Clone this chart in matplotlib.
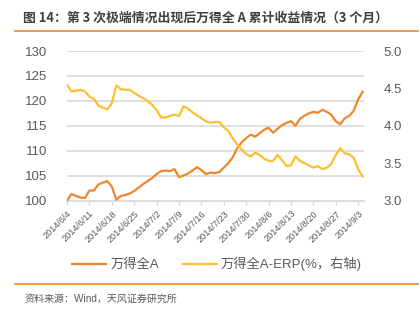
import matplotlib
matplotlib.use("Agg")
import matplotlib.pyplot as plt
from matplotlib.lines import Line2D

plt.rcParams['font.family'] = ['Liberation Sans', 'Noto Sans CJK SC', 'DejaVu Sans']

# 交易日标签（每5个交易日标注一次）
tick_labels = ["2014/6/4", "2014/6/11", "2014/6/18", "2014/6/25", "2014/7/2",
               "2014/7/9", "2014/7/16", "2014/7/23", "2014/7/30", "2014/8/6",
               "2014/8/13", "2014/8/20", "2014/8/27", "2014/9/3"]

# 万得全A累计收益（起点=100）
wind_a = [100.0, 101.3, 100.9, 100.6, 100.5, 102.0, 102.0, 103.2, 103.6, 103.9,
          102.8, 100.2, 100.9, 101.1, 101.4, 101.9, 102.6, 103.3, 103.9, 104.5,
          105.3, 105.9, 106.0, 105.9, 106.3, 104.7, 105.0, 105.4, 106.0, 106.7,
          106.1, 105.3, 105.6, 105.5, 105.7, 106.6, 107.5, 108.7, 110.5, 111.7,
          112.5, 113.2, 112.8, 113.5, 114.2, 114.6, 113.6, 114.4, 115.1, 115.6,
          115.9, 115.0, 116.4, 117.0, 117.5, 117.8, 117.6, 118.2, 117.8, 117.2,
          115.9, 115.3, 116.5, 117.0, 118.0, 120.3, 121.8]

# 万得全A ERP（%）
erp = [4.55, 4.46, 4.47, 4.48, 4.46, 4.39, 4.36, 4.27, 4.24, 4.22,
       4.30, 4.54, 4.49, 4.48, 4.48, 4.44, 4.40, 4.37, 4.33, 4.28,
       4.21, 4.11, 4.11, 4.13, 4.15, 4.13, 4.26, 4.23, 4.18, 4.14,
       4.10, 4.06, 4.04, 4.05, 4.05, 3.98, 3.93, 3.83, 3.75, 3.68,
       3.62, 3.59, 3.64, 3.61, 3.56, 3.53, 3.53, 3.61, 3.54, 3.46,
       3.47, 3.59, 3.53, 3.50, 3.47, 3.44, 3.46, 3.42, 3.44, 3.49,
       3.61, 3.70, 3.63, 3.62, 3.57, 3.42, 3.32]

ORANGE = "#F0862A"
YELLOW = "#FDBF2D"
GREY = "#595959"

x = list(range(len(wind_a)))

fig = plt.figure(figsize=(4.2, 3.22), dpi=100)
ax = fig.add_axes([67 / 420, 1 - 200.5 / 322, (364 - 67) / 420, (200.5 - 51) / 322])
ax2 = ax.twinx()

ax.plot(x, wind_a, color=ORANGE, lw=1.6, zorder=3)
ax2.plot(x, erp, color=YELLOW, lw=1.6, zorder=3)

ax.set_ylim(100, 130)
ax.set_yticks(range(100, 131, 5))
ax2.set_ylim(3.0, 5.0)
ax2.set_yticks([3.0, 3.5, 4.0, 4.5, 5.0])
ax2.set_yticklabels(["3.0", "3.5", "4.0", "4.5", "5.0"])
ax.set_xlim(0, 66.3)
ax.set_xticks(range(0, 66, 5))
ax.set_xticklabels(tick_labels, rotation=45, ha="right", rotation_mode="anchor",
                   fontsize=6.6, color=GREY)

ax.yaxis.grid(True, color="#D9D9D9", lw=1.2, zorder=0)
ax.set_axisbelow(True)
for a in (ax, ax2):
    for s in a.spines.values():
        s.set_visible(False)
ax.spines["bottom"].set_visible(True)
ax.spines["bottom"].set_color("#D9D9D9")
ax.spines["bottom"].set_linewidth(1.2)

ax.tick_params(axis="y", length=0, pad=14, labelsize=9.5, labelcolor=GREY)
ax2.tick_params(axis="y", length=0, pad=14, labelsize=9.5, labelcolor=GREY)
ax.tick_params(axis="x", length=3, color="#D9D9D9", width=1, pad=3)

# 标题与分隔线
fig.text(23 / 420, 1 - 18 / 322, "图 14：第 3 次极端情况出现后万得全 A 累计收益情况（3 个月）",
         fontsize=9.3, fontweight="bold", color="#404040", va="center",
         family=["Noto Sans CJK SC"])
fig.add_artist(Line2D([15 / 420, 418 / 420], [1 - 31 / 322] * 2, color="#F0862A", lw=1.2))
fig.add_artist(Line2D([15 / 420, 418 / 420], [1 - 284 / 322] * 2, color="#F0862A", lw=1.2))

# 图例
handles = [Line2D([], [], color=ORANGE, lw=1.6), Line2D([], [], color=YELLOW, lw=1.6)]
fig.legend(handles, ["万得全A", "万得全A-ERP(%，右轴)"], loc="center",
           bbox_to_anchor=(217 / 420, 1 - 264 / 322), ncol=2, frameon=False,
           fontsize=9.5, handlelength=2.6, handletextpad=0.3, columnspacing=1.8,
           labelcolor=GREY)

fig.text(25 / 420, 1 - 299 / 322, "资料来源：Wind，天风证券研究所", fontsize=7.2,
         color=GREY, va="center")

fig.savefig("out.png", dpi=100)
